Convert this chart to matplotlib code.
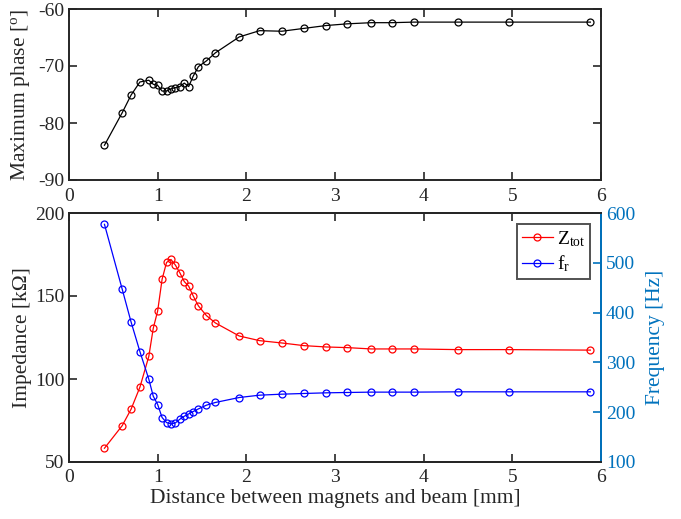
import matplotlib
matplotlib.use("Agg")
import matplotlib.pyplot as plt

plt.rcParams['font.family'] = ['Liberation Serif', 'DejaVu Serif']
plt.rcParams['mathtext.fontset'] = 'custom'
plt.rcParams['mathtext.rm'] = 'Liberation Serif'
plt.rcParams['mathtext.it'] = 'Liberation Serif:italic'
plt.rcParams['axes.unicode_minus'] = False

distance = [0.4, 0.6, 0.7, 0.8, 0.9, 0.95, 1.0, 1.05, 1.1, 1.15, 1.2, 1.25, 1.3, 1.35, 1.4,
            1.46, 1.55, 1.65, 1.92, 2.15, 2.4, 2.65, 2.9, 3.14, 3.41, 3.64, 3.89, 4.39, 4.96, 5.88]
max_phase = [-83.9, -78.2, -75.1, -72.8, -72.5, -73.2, -73.4, -74.4, -74.4, -74.0, -73.8, -73.6,
             -73.0, -73.6, -71.8, -70.1, -69.1, -67.7, -64.9, -63.8, -63.9, -63.4, -62.9, -62.6,
             -62.4, -62.4, -62.3, -62.3, -62.3, -62.3]
z_tot = [58.3, 71.9, 81.8, 95.1, 113.6, 130.5, 141.0, 160.1, 170.2, 172.0, 168.6, 164.0, 158.7,
         155.9, 150.1, 144.0, 138.2, 133.8, 125.9, 123.1, 121.7, 120.1, 119.3, 118.9, 118.1,
         118.1, 118.1, 117.7, 117.7, 117.4]
f_r = [577.2, 447.0, 381.2, 321.5, 266.4, 232.2, 215.4, 189.3, 179.2, 176.5, 178.5, 185.9, 191.9,
       196.6, 201.3, 206.7, 214.1, 219.5, 229.5, 234.2, 236.2, 237.6, 238.9, 239.6, 240.3, 240.3,
       240.3, 240.9, 240.9, 240.9]

x_ticks = [0, 1, 2, 3, 4, 5, 6]
phase_ticks = [-90, -80, -70, -60]
z_ticks = [50, 100, 150, 200]
f_ticks = [100, 200, 300, 400, 500, 600]

DARK = '#262626'
BLUE_AX = '#0072BD'
FS_TICK = 14
FS_LABEL = 15.5

fig = plt.figure(figsize=(6.81, 5.19), dpi=100)
W, H = 681, 519
L, R = 69 / W, 601 / W
ax1 = fig.add_axes([L, 1 - 180 / H, R - L, (180 - 9) / H])
ax2 = fig.add_axes([L, 1 - 462 / H, R - L, (462 - 213) / H])

mk = dict(marker='o', markersize=5, markerfacecolor='none', markeredgewidth=0.9, linewidth=0.9)

ax1.plot(distance, max_phase, color='black', **mk)
ax1.set_xlim(0, 6)
ax1.set_ylim(-90, -60)
ax1.set_xticks(x_ticks)
ax1.set_yticks(phase_ticks)
ax1.set_ylabel('Maximum phase [$^{\\rm o}$]', fontsize=FS_LABEL, color=DARK, labelpad=4)

l1, = ax2.plot(distance, z_tot, color='red', label=r'Z$_{\rm tot}$', **mk)
ax2.set_xlim(0, 6)
ax2.set_ylim(50, 200)
ax2.set_xticks(x_ticks)
ax2.set_yticks(z_ticks)
ax2.set_ylabel('Impedance [k\u03a9]', fontsize=FS_LABEL, color=DARK, labelpad=2)
ax2.set_xlabel('Distance between magnets and beam [mm]', fontsize=FS_LABEL, color=DARK,
               labelpad=2)

ax3 = ax2.twinx()
l2, = ax3.plot(distance, f_r, color='blue', label=r'f$_{\rm r}$', **mk)
ax3.set_ylim(100, 600)
ax3.set_yticks(f_ticks)
ax3.set_ylabel('Frequency [Hz]', fontsize=FS_LABEL, color=BLUE_AX, labelpad=8)

for ax in (ax1, ax2, ax3):
    for s in ax.spines.values():
        s.set_linewidth(1.4)
        s.set_color(DARK)
    ax.tick_params(which='major', direction='in', labelsize=FS_TICK, colors=DARK,
                   width=1.2, length=6)

ax1.tick_params(axis='both', top=True, right=True)
ax1.tick_params(axis='x', pad=6)
ax2.tick_params(axis='x', top=True, pad=5)
ax2.tick_params(axis='y', right=False)
ax3.spines['right'].set_color(BLUE_AX)
ax3.tick_params(axis='y', colors=BLUE_AX, right=True, length=6)
ax3.spines['left'].set_visible(False)

leg = ax3.legend(handles=[l1, l2], loc='upper right', fontsize=FS_TICK,
                 frameon=True, fancybox=False, edgecolor=DARK,
                 handlelength=1.6, handletextpad=0.2, borderpad=0.25, labelspacing=0.25,
                 borderaxespad=0, bbox_to_anchor=((590 - 69) / 532, 1 - 11 / 249))
leg.get_frame().set_linewidth(1.4)

fig.savefig('out.png', dpi=100)
